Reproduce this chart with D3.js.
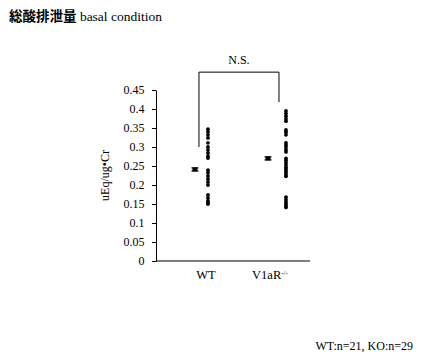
<!DOCTYPE html>
<html lang="ja">
<head>
<meta charset="utf-8">
<title>総酸排泄量</title>
<script src="https://d3js.org/d3.v7.min.js"></script>
<style>
  body { margin: 0; background: #fff; }
  text { font-family: "Liberation Serif", "DejaVu Serif", serif; fill: #000; }
</style>
</head>
<body>
<script>
// data
var categories = ["WT", "V1aR"];
var wtValues = [0.347, 0.340, 0.332, 0.324, 0.311, 0.300, 0.292, 0.284, 0.276, 0.271,
                0.239, 0.232, 0.224, 0.216, 0.208, 0.200, 0.174, 0.166, 0.158, 0.153, 0.150];
var koValues = [0.395, 0.388, 0.381, 0.374, 0.368, 0.345, 0.339, 0.332, 0.311, 0.305,
                0.300, 0.293, 0.287, 0.270, 0.265, 0.259, 0.253, 0.247, 0.242, 0.237,
                0.232, 0.226, 0.223, 0.168, 0.161, 0.155, 0.150, 0.145, 0.141];
var meanValues = [0.241, 0.270];
var semValues = [0.004, 0.004];
var yTicks = [0, 0.05, 0.1, 0.15, 0.2, 0.25, 0.3, 0.35, 0.4, 0.45];

var W = 425, H = 355;
var svg = d3.select("body").append("svg").attr("width", W).attr("height", H);

var y = d3.scaleLinear().domain([0, 0.45]).range([261, 90]);
var x = d3.scaleLinear().domain([0, 2]).range([156, 310]);   // one unit per group

// where things sit inside each group
var meanPos = [0.506, 1.455], dotPos = [0.675, 1.688], labelPos = [0.649, 1.48];

// title
var title = svg.append("text").attr("x", 9).attr("y", 21).style("font-size", "13.5px");
title.append("tspan").style("font-family", "'Noto Sans CJK JP', sans-serif")
    .style("font-weight", "bold").text("総酸排泄量");
title.append("tspan").text(" basal condition");

// y axis
var yAxis = svg.append("g")
    .attr("transform", "translate(" + x(0) + ",0)")
    .call(d3.axisLeft(y).tickValues(yTicks).tickSize(4).tickSizeOuter(0).tickPadding(7.5)
        .tickFormat(function(d) { return +d.toFixed(2); }));
yAxis.selectAll("text").style("font-family", "'Liberation Serif', serif").style("font-size", "12px");
yAxis.selectAll("path, line").attr("stroke", "#000").attr("stroke-width", 1);

// x axis line
svg.append("line")
    .attr("x1", x(0)).attr("x2", x(2)).attr("y1", y(0)).attr("y2", y(0))
    .attr("stroke", "#000");

// category labels
var lab = svg.selectAll(".cat").data(categories).enter().append("text")
    .attr("class", "cat")
    .attr("x", function(d, i) { return x(labelPos[i]); })
    .attr("y", 279)
    .attr("text-anchor", "middle")
    .style("font-size", "12.5px")
    .text(function(d) { return d; });
lab.filter(function(d, i) { return i === 1; }).append("tspan")
    .attr("dy", -4).style("font-size", "7px").text("-/-");

// y label
svg.append("text")
    .attr("transform", "translate(109," + ((y(0) + y(0.45)) / 2) + ") rotate(-90)")
    .attr("text-anchor", "middle")
    .style("font-size", "12px")
    .text("uEq/ug•Cr");

// individual points
var groups = [wtValues, koValues];
groups.forEach(function(vals, gi) {
    svg.selectAll(".dot" + gi).data(vals).enter().append("circle")
        .attr("cx", x(dotPos[gi]))
        .attr("cy", function(d) { return y(d); })
        .attr("r", 1.9)
        .attr("fill", "#000");
});

// mean +- sem
meanValues.forEach(function(m, i) {
    var cx = x(meanPos[i]);
    var g = svg.append("g").attr("stroke", "#000").attr("stroke-width", 1.2);
    g.append("line").attr("x1", cx).attr("x2", cx).attr("y1", y(m + semValues[i])).attr("y2", y(m - semValues[i]));
    g.append("line").attr("x1", cx - 3.5).attr("x2", cx + 3.5).attr("y1", y(m + semValues[i])).attr("y2", y(m + semValues[i]));
    g.append("line").attr("x1", cx - 3.5).attr("x2", cx + 3.5).attr("y1", y(m - semValues[i])).attr("y2", y(m - semValues[i]));
    svg.append("rect").attr("x", cx - 2.5).attr("y", y(m) - 2).attr("width", 5).attr("height", 4).attr("fill", "#000");
});

// significance bracket
var bx = [0.558, 1.597], byFoot = [0.3, 0.418], byTop = 0.497;
svg.append("path")
    .attr("d", "M" + x(bx[0]) + "," + y(byFoot[0]) + "V" + y(byTop) + "H" + x(bx[1]) + "V" + y(byFoot[1]))
    .attr("fill", "none").attr("stroke", "#000");
svg.append("text")
    .attr("x", (x(bx[0]) + x(bx[1])) / 2).attr("y", 64)
    .attr("text-anchor", "middle").style("font-size", "12px")
    .text("N.S.");

// n counts
svg.append("text")
    .attr("x", 413).attr("y", 350)
    .attr("text-anchor", "end").style("font-size", "12px")
    .text("WT:n=" + wtValues.length + ", KO:n=" + koValues.length);
</script>
</body>
</html>
